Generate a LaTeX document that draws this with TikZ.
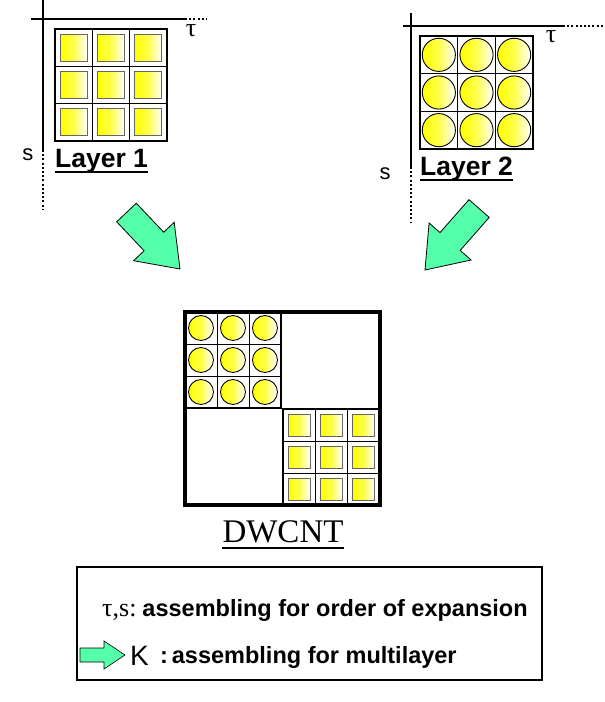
\documentclass[tikz,border=0pt]{standalone}
\usepackage{fontspec}
\setmainfont{Liberation Serif}
\setsansfont{Liberation Sans}
\usetikzlibrary{positioning,calc}
\definecolor{mint}{HTML}{55FFAA}
\definecolor{lemon}{HTML}{FFFF00}

\tikzset{
  axisline/.style={line width=2.6pt},
  axisdots/.style={line width=2.2pt,dash pattern=on 2pt off 2.2pt},
  gridline/.style={line width=1pt},
  gridframe/.style={line width=2.2pt},
  cellsq/.style={draw=black!60,line width=1pt,left color=lemon,right color=white,middle color=lemon!70!white},
  cellcirc/.style={draw=black,line width=0.9pt,left color=lemon,right color=white,middle color=lemon!70!white},
  bigarrow/.style={draw=black,line width=0.8pt,fill=mint,line join=miter},
  lab/.style={inner sep=0pt,anchor=base west},
}

% 3x3 block of squares: x0, y0, cell size, inset
\newcommand{\squareblock}[4]{%
  \foreach \i in {0,1,2}{\foreach \j in {0,1,2}{
    \draw[gridline] ({#1+\i*#3},{#2+\j*#3}) rectangle ++(#3,#3);
    \path[cellsq] ({#1+\i*#3+#4*#3},{#2+\j*#3+#4*#3}) rectangle ++({(1-2*#4)*#3},{(1-2*#4)*#3});}}
  \draw[gridframe] (#1,#2) rectangle ++({3*#3},{3*#3});}
% 3x3 block of circles: x0, y0, cell size, radius ratio
\newcommand{\circleblock}[4]{%
  \foreach \i in {0,1,2}{\foreach \j in {0,1,2}{
    \draw[gridline] ({#1+\i*#3},{#2+\j*#3}) rectangle ++(#3,#3);
    \path[cellcirc] ({#1+(\i+0.5)*#3},{#2+(\j+0.5)*#3}) circle ({#4*#3});}}
  \draw[gridframe] (#1,#2) rectangle ++({3*#3},{3*#3});}

\begin{document}
\begin{tikzpicture}[x=1pt,y=-1pt]
\useasboundingbox (0,0) rectangle (605,702);

% layer 1
\draw[axisline] (43,0)--(43,150);
\draw[axisdots] (43,150)--(43,210);
\draw[axisline] (31,19)--(185,19);
\draw[axisdots] (185,19)--(207,19);
\node[font=\fontsize{26}{26}\selectfont] (tauA) at (191,31) {τ};
\node[font=\sffamily\fontsize{22}{22}\selectfont] (sA) at (28,155) {s};
\squareblock{55}{29}{37.33}{0.14}
\node[lab,font=\sffamily\bfseries\fontsize{26.5}{26.5}\selectfont] (layA) at (55,167) {Layer 1};
\draw[line width=2.4pt] ($(layA.base west)+(0,5)$)--($(layA.base east)+(0,5)$);

% layer 2
\draw[axisline] (411,13)--(411,167);
\draw[axisdots] (411,167)--(411,222);
\draw[axisline] (403,26)--(563,26);
\draw[axisdots] (563,26)--(605,26);
\node[font=\fontsize{26}{26}\selectfont] (tauB) at (551,37) {τ};
\node[font=\sffamily\fontsize{22}{22}\selectfont] (sB) at (385,174) {s};
\circleblock{420}{36}{37.67}{0.44}
\node[lab,font=\sffamily\bfseries\fontsize{26.5}{26.5}\selectfont] (layB) at (420,175) {Layer 2};
\draw[line width=2.4pt] ($(layB.base west)+(0,5)$)--($(layB.base east)+(0,5)$);

% arrows into the double wall
\draw[bigarrow] (180,269)--(174.2,222.3)--(163.7,232.2)--(136.3,203.2)--(116.7,221.8)--(144.1,250.8)--(133.6,260.7)--cycle;
\draw[bigarrow] (425,270)--(429.1,223)--(440,232.6)--(469,199.6)--(489.2,217.4)--(460.2,250.4)--(471.1,260)--cycle;

% DWCNT
\circleblock{185}{312}{32}{0.39}
\squareblock{283}{409}{32.33}{0.16}
\draw[line width=4pt] (185,312) rectangle (380,505);
\node[lab,anchor=base,font=\fontsize{33}{33}\selectfont] (dw) at (283,542) {DWCNT};
\draw[line width=1.6pt] ($(dw.base west)+(0,6)$)--($(dw.base east)+(0,6)$);

% legend
\draw[line width=2.4pt] (77,567) rectangle (542,680);
\node[lab,font=\fontsize{26}{26}\selectfont] (keyA) at (102,616) {τ,s:\hspace{6pt}\sffamily\bfseries\fontsize{23.5}{23.5}\selectfont assembling for order of expansion};
\draw[bigarrow,line width=0.6pt] (80,648)--(104,648)--(104,641)--(125,655)--(104,669)--(104,662)--(80,662)--cycle;
\node[lab,font=\sffamily\fontsize{28}{28}\selectfont] (keyK) at (130,665) {K};
\node[lab,font=\sffamily\bfseries\fontsize{23.5}{23.5}\selectfont] (keyB) at (160,663) {:\,assembling for multilayer};
\end{tikzpicture}
\end{document}
